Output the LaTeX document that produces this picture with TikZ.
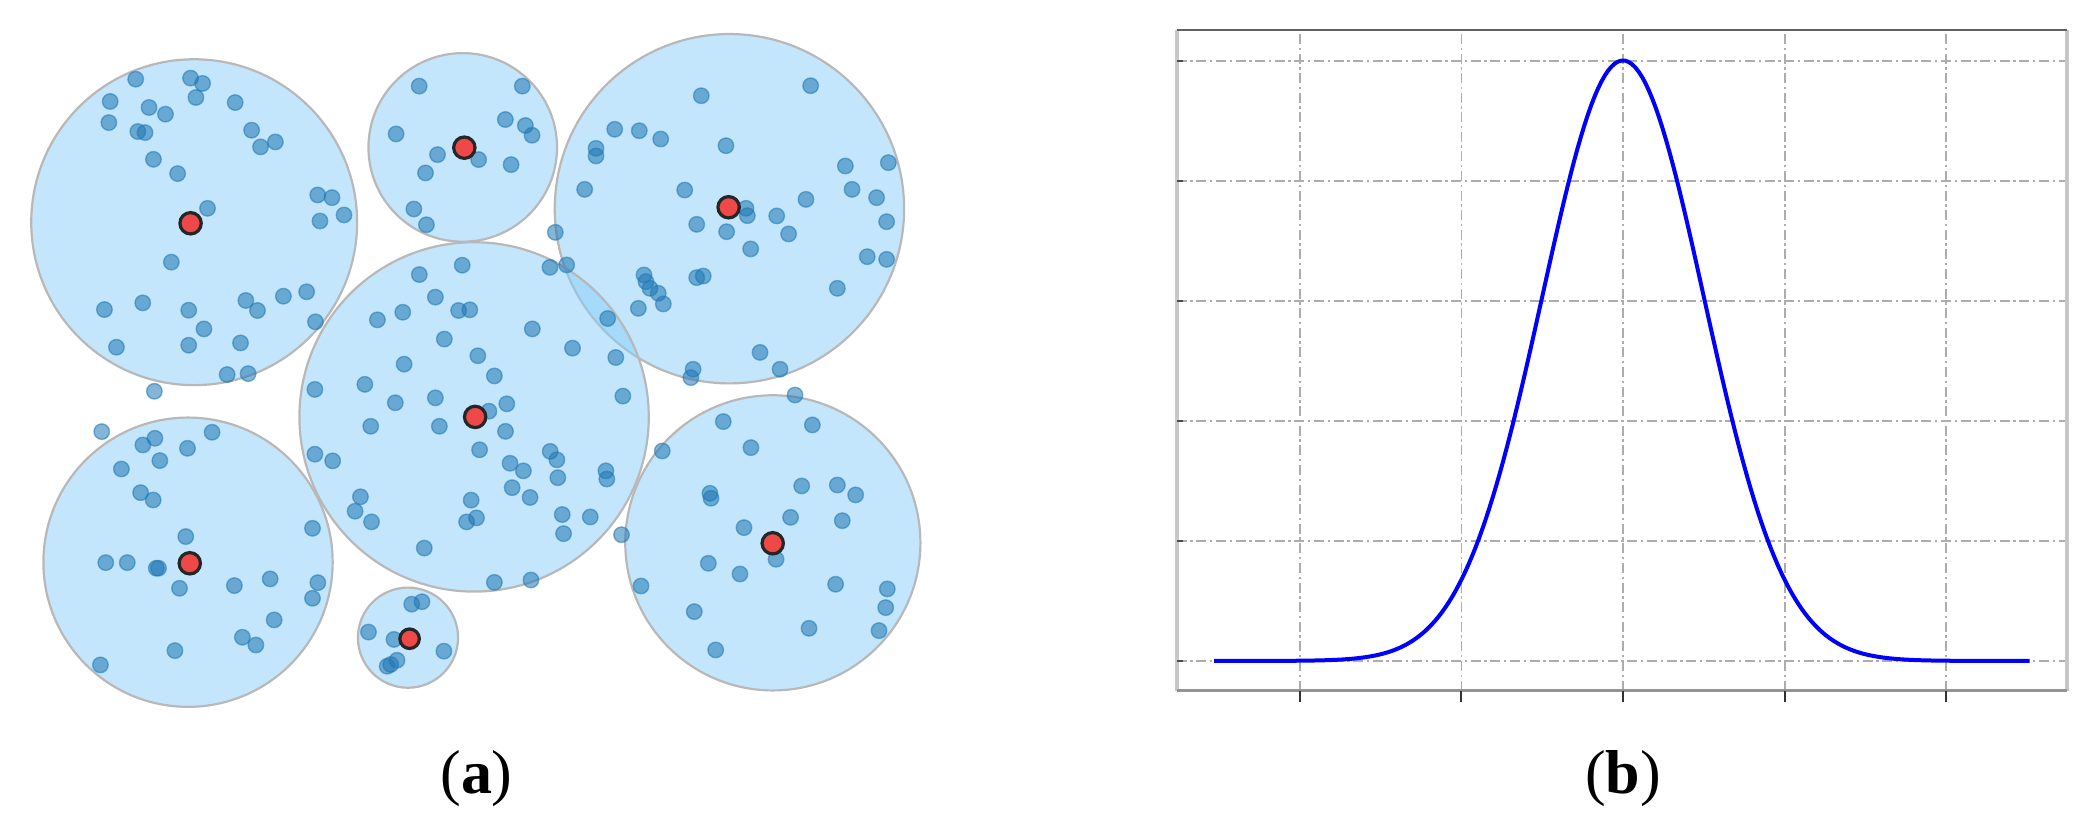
\documentclass[tikz,border=0pt]{standalone}
\usepackage{fontspec}
\setmainfont{Liberation Serif}
\definecolor{clusterfill}{RGB}{135,206,250}
\definecolor{dotblue}{RGB}{31,119,180}
\definecolor{centerred}{RGB}{238,72,72}
\begin{document}
\begin{tikzpicture}[x=0.33387pt, y=-0.33387pt,
  cluster/.style={fill=clusterfill, fill opacity=0.5, draw=black!28, line width=0.55pt},
  sample/.style={fill=dotblue, fill opacity=0.55, draw=dotblue, draw opacity=0.55, line width=0.35pt},
  centre/.style={fill=centerred, draw=black!85, line width=0.8pt},
  gridln/.style={draw=black!32, line width=0.45pt, dash pattern=on 2.5pt off 0.9pt on 0.6pt off 0.9pt},
  caption/.style={anchor=base, font=\fontsize{15.5}{18}\selectfont}]
\useasboundingbox (0,0) rectangle (1568,614);

% ---------- panel (a): clusters ----------
\foreach \cx/\cy/\r in {145.4/166.4/122, 346.5/110.4/70.6, 546.2/156.3/130.8,
  355/312.2/130.8, 140.8/421/108.3, 305.5/477.5/37.5, 578.7/406.5/110.5}
  \path[cluster] (\cx,\cy) circle[radius=\r];

% samples
\foreach \x/\y in {
 101.6/59.3,142.7/58.5,151.7/62.5,146.7/73,176.1/76.8,82.5/76,111.6/80.5,123.9/85.5,
 81.5/91.8,103.2/98.5,108.6/99.3,188.4/97.5,195.1/110,206.2/106.3,114.9/119.3,133/130,
 237.9/146,248.6/148,257.6/161,239.6/165.5,155.4/156,128.3/196.3,78.2/231.8,106.9/226.8,
 141.3/232.3,184.1/225,192.8/232.5,212.2/221.8,229.6/218.5,236.2/241,152.7/246.3,
 141.3/258.5,180.1/256.8,87.2/260,170.1/280.5,185.8/279.8,115.6/293,
 313.9/64.5,391.1/64.5,296.6/100.3,378.4/89.5,393.4/94,398.4/101.3,358.4/119.5,
 382.7/123.3,327.6/115.8,318.6/129.5,309.9/156.5,319.3/168.3,415.8/174,
 525.1/71.7,607/64.2,460.3/96.8,478.7/97.9,494.7/104.1,446.3/111.1,446.3/116.8,
 543.6/109.1,437.8/141.8,512.7/142.3,633/124.3,665.2/121.8,638/141.8,656.4/148,
 603.5/149.3,558.6/156,559.6/161.5,581.6/161.7,521.7/168,544.1/173.5,590.5/175.2,
 562.1/186.4,663.9/166,649.4/192.2,663.9/194.2,627/215.9,521.7/207.9,526.6/206.7,
 482.2/205.9,483.7/210.9,486.7/215.9,492.9/219.6,496.7/227.6,478/230.9,411.8/200.2,
 424.3/198.4,455/238.5,569.1/263.9,519/276.5,517.3/282.8,584.1/276.5,
 314/205.6,346.1/198.6,326/222.5,343.4/232.5,351.8/232,301.6/233.8,282.6/239.5,
 398.6/246.3,332.7/253.9,428.7/260.7,357.8/266.4,461.1/267.7,302.6/272.7,370.2/281.5,
 273.2/287.8,235.8/291.6,326/297.9,296/301.6,379.5/302.4,466.4/296.6,366.1/307.9,
 329/319.2,277.6/319.2,378.5/323,359.1/336.8,412/338,417/344.3,417.7/357.7,
 235.8/340.1,249.1/345.1,381.9/346.9,391.9/352.6,453.7/352.6,454.4/358.7,383.5/365.2,
 396.9/372.5,269.9/372,265.9/382.8,278.2/390.8,352.8/374.5,349.4/390.8,356.8/387.8,
 421/385.3,442/387.1,422/399.6,465.4/400.4,317.7/410.4,370.2/436.1,397.6/434.3,
 76.2/323.2,107/333.2,116/328.2,140.4/335.7,158.8/323.7,90.9/351.2,119.7/344.9,
 105.3/368.9,114.7/374.4,234/395.6,139.1/401.8,79.2/421.3,95.3/421.3,117/425.5,
 118.7/425.5,134.4/440.5,175.5/438.5,202.3/433.5,238/436.3,234/448,205.3/464.2,
 181.5/477.2,191.6/483,131/487.2,75.2/497.9,
 308.3/452.4,316/450.6,275.9/473.3,295/478.8,332.4/487.6,297.3/494.4,289.9/498.9,
 292.6/497.6,
 595.3/295.8,541.6/315.7,608.3/318.2,495.9/337.7,562.3/335.2,531.6/369.4,532.4/373.1,
 600.3/363.9,627/363.2,640.7/370.6,592/387.4,630.7/389.9,557.1/395.1,581.1/418.8,
 530.4/421.8,554.1/429.8,480/438.8,625.7/437.5,664.4/441,663.2/455,658.2/472.2,
 519.9/458,605.8/470.5,535.9/486.7}
  \path[sample] (\x,\y) circle[radius=5.8];

% cluster centres
\foreach \x/\y/\r in {142.7/167.2/8, 347.7/110.6/8, 545.6/155.2/8, 355.8/312.2/8,
  142.1/421.8/8, 306.7/478.3/7.3, 578.6/406.8/8}
  \path[centre] (\x,\y) circle[radius=\r];

\node[caption] (capa) at (356.8,594.5) {(\textbf{a})};

% ---------- panel (b): Gaussian ----------
\begin{scope}[shift={(1215.3,494.9)}, x=40.398pt, y=30.015pt]
  \foreach \gx in {-2,-1,0,1,2}
    \draw[gridln] (\gx,-0.248) -- (\gx,5.255);
  \foreach \gy in {0,1,2,3,4,5}
    \draw[gridln] (-2.762,\gy) -- (2.746,\gy);
  \draw[blue, line width=1pt] plot[domain=-2.53:2.52, samples=241] (\x,{5*exp(-2*\x*\x)});
  \draw[black!22, line width=1pt] (-2.762,-0.248) -- (-2.762,5.255);
  \draw[black!22, line width=1pt] (2.746,-0.248) -- (2.746,5.255);
  \draw[black!62, line width=0.65pt] (-2.762,5.255) -- (2.746,5.255);
  \draw[black!42, line width=0.9pt] (-2.762,-0.248) -- (2.746,-0.248);
  \foreach \gx in {-2,-1,0,1,2}
    \draw[black!80, line width=0.5pt] (\gx,-0.248) -- (\gx,-0.345);
  \foreach \gy in {0,1,2,3,4,5}
    \draw[black!70, line width=0.5pt] (-2.762,\gy) -- (-2.72,\gy);
\end{scope}

\node[caption] (capb) at (1215.3,594.5) {(\textbf{b})};
\end{tikzpicture}
\end{document}
